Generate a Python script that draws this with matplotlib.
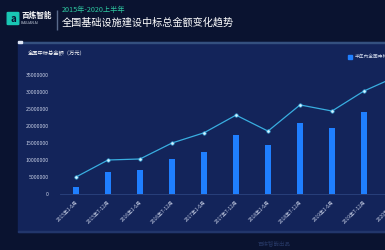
import numpy as np
import matplotlib
matplotlib.use('Agg')
import matplotlib.pyplot as plt
from matplotlib.patches import Rectangle, FancyBboxPatch
from matplotlib.ticker import FuncFormatter

plt.rcParams['font.family'] = ['Noto Sans CJK SC', 'DejaVu Sans']

periods = ['2015年1-6月', '2015年7-12月', '2016年1-6月', '2016年7-12月',
           '2017年1-6月', '2017年7-12月', '2018年1-6月', '2018年7-12月',
           '2019年1-6月', '2019年7-12月', '2020年1-6月']
# half-year amount (bars) and running trend (line), 万元
half_year = [2.0e6, 6.5e6, 7.0e6, 10.3e6, 12.4e6, 17.4e6, 14.4e6, 21.0e6,
             19.4e6, 24.0e6, 27.0e6]
trend = [5.0e6, 10.0e6, 10.3e6, 15.0e6, 18.0e6, 23.2e6, 18.5e6, 26.2e6,
         24.4e6, 30.3e6, 34.5e6]
yticks = [0, 5000000, 10000000, 15000000, 20000000, 25000000, 30000000, 35000000]

W, H = 385, 250
fig = plt.figure(figsize=(W / 100, H / 100), dpi=100)
fig.patch.set_facecolor('#0a1330')


def px(x, y):
    return x / W, 1 - y / H


# panel background
fig.patches.append(Rectangle(px(18, 232), (W - 18) / W, 190 / H,
                             transform=fig.transFigure, color='#13245a', zorder=0))
fig.patches.append(Rectangle(px(18, 43), (W - 18) / W, 1.2 / H,
                             transform=fig.transFigure, color='#34507f', zorder=1))
fig.patches.append(Rectangle(px(18, 43.5), 4 / W, 2 / H,
                             transform=fig.transFigure, color='#dfe6f5', zorder=2))
fig.patches.append(Rectangle(px(18, 232), (W - 18) / W, 1 / H,
                             transform=fig.transFigure, color='#22366b', zorder=1))

# header
fig.patches.append(FancyBboxPatch(px(8, 24), 10 / W, 11 / H,
                                  boxstyle='round,pad=0.002', transform=fig.transFigure,
                                  color='#19c6b4', zorder=2))
fig.text(*px(13, 18.5), 'a', color='#0a1330', fontsize=7, fontweight='bold',
         ha='center', va='center')
fig.text(*px(21, 15), '百炼智能', color='white', fontsize=5.5, fontweight='bold',
         va='center')
fig.text(*px(21, 23), 'BAILIAN AI', color='#c8d0e0', fontsize=2.5, va='center')
fig.patches.append(Rectangle(px(56.5, 30), 0.8 / W, 20 / H,
                             transform=fig.transFigure, color='#5a6b8c', zorder=2))
fig.text(*px(62, 10), '2015年-2020上半年', color='#2ec7a0', fontsize=5.2, va='center')
fig.text(*px(62, 22.5), '全国基础设施建设中标总金额变化趋势', color='white',
         fontsize=7.3, va='center')

# panel texts
fig.text(*px(28, 53), '全国中标总金额（万元）', color='white', fontsize=3.8, va='center')
fig.patches.append(Rectangle(px(348, 59), 4 / W, 4 / H,
                             transform=fig.transFigure, color='#1f7fff', zorder=2))
fig.text(*px(354.5, 57), '半年内全国中标总金额', color='#d0d8ea', fontsize=3.4, va='center')
fig.text(*px(258, 243), '百炼智能出品', color='#243561', fontsize=4, va='center')

# chart axes
ax = fig.add_axes([60 / W, 1 - 194 / H, 352 / W, 119 / H])
ax.set_zorder(5)
ax.set_facecolor('none')
x = np.arange(len(periods))
ax.bar(x, half_year, width=0.2, color='#1f7fff', zorder=2)
ax.plot(x, trend, color='#39aee0', lw=0.9, marker='o', ms=2.4,
        mfc='#d8f2ff', mec='#39aee0', mew=0.5, zorder=3, clip_on=False)
ax.set_xlim(-0.5, len(periods) - 0.5)
ax.set_ylim(0, 35000000)
ax.set_yticks(yticks)
ax.yaxis.set_major_formatter(FuncFormatter(lambda v, p: f'{int(v)}'))
ax.set_xticks(x)
ax.set_xticklabels(periods, rotation=45, ha='right', rotation_mode='anchor')
ax.tick_params(axis='y', length=0, labelsize=3.8, labelcolor='#c8d0e6', pad=8)
ax.tick_params(axis='x', length=0, labelsize=3.5, labelcolor='#c8d0e6', pad=4)
for s in ['top', 'right', 'left']:
    ax.spines[s].set_visible(False)
ax.spines['bottom'].set_color('#2c4480')
ax.spines['bottom'].set_linewidth(0.6)

fig.savefig('out.png', dpi=100, facecolor=fig.get_facecolor())
